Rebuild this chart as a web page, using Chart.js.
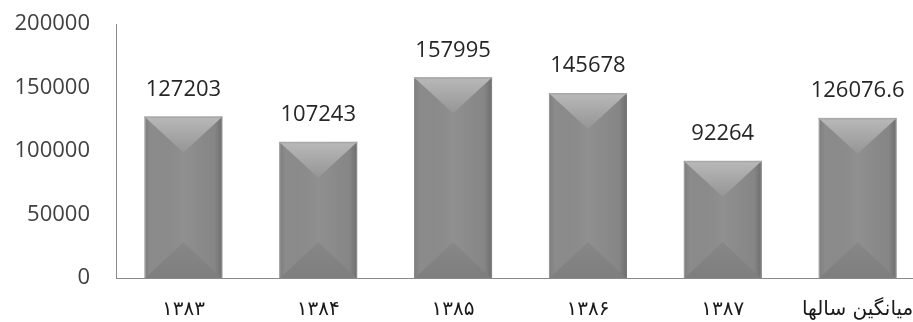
<!DOCTYPE html>
<html>
<head>
<meta charset="utf-8">
<script src="https://cdn.jsdelivr.net/npm/chart.js@4/dist/chart.umd.min.js"></script>
<style>
  html, body { margin: 0; padding: 0; background: #ffffff; overflow: hidden; }
  #wrap { width: 913px; height: 322px; overflow: hidden; position: relative; }
  #box { width: 925px; height: 322px; position: absolute; left: 0; top: 0; }
</style>
</head>
<body>
<div id="wrap"><div id="box"><canvas id="c" width="925" height="322"></canvas></div></div>
<script>
const categories = ['۱۳۸۳', '۱۳۸۴', '۱۳۸۵', '۱۳۸۶', '۱۳۸۷', 'میانگین سالها'];
const values = [127203, 107243, 157995, 145678, 92264, 126076.6];
const valueLabels = ['127203', '107243', '157995', '145678', '92264', '126076.6'];
const yTicks = [0, 50000, 100000, 150000, 200000];

const bevelPlugin = {
  id: 'bevel',
  afterDatasetsDraw(chart) {
    const ctx = chart.ctx;
    const meta = chart.getDatasetMeta(0);
    meta.data.forEach((bar, i) => {
      const p = bar.getProps(['x', 'y', 'base', 'width'], true);
      const l = p.x - p.width / 2, r = p.x + p.width / 2;
      const top = p.y, base = p.base;
      const h = base - top;
      const d = Math.min(p.width * 0.46, h / 2);
      ctx.save();
      let g = ctx.createLinearGradient(l, 0, r, 0);
      g.addColorStop(0, 'rgba(0,0,0,0.10)');
      g.addColorStop(0.08, 'rgba(0,0,0,0.0)');
      g.addColorStop(0.5, 'rgba(255,255,255,0.04)');
      g.addColorStop(0.9, 'rgba(0,0,0,0.04)');
      g.addColorStop(1, 'rgba(0,0,0,0.22)');
      ctx.fillStyle = g;
      ctx.fillRect(l, top, p.width, h);
      g = ctx.createLinearGradient(0, top, 0, top + d);
      g.addColorStop(0, '#b9b9b9');
      g.addColorStop(1, '#959595');
      ctx.beginPath();
      ctx.moveTo(l + 1, top + 1);
      ctx.lineTo(r - 1, top + 1);
      ctx.lineTo(p.x, top + d);
      ctx.closePath();
      ctx.fillStyle = g;
      ctx.fill();
      g = ctx.createLinearGradient(0, base - d, 0, base);
      g.addColorStop(0, '#878787');
      g.addColorStop(1, '#7e7e7e');
      ctx.beginPath();
      ctx.moveTo(l + 1, base);
      ctx.lineTo(r - 1, base);
      ctx.lineTo(p.x, base - d);
      ctx.closePath();
      ctx.fillStyle = g;
      ctx.fill();
      ctx.fillStyle = '#a8a8a8';
      ctx.fillRect(l, top, p.width, 1.5);
      ctx.restore();

      ctx.save();
      ctx.font = '22px "Open Sans"';
      ctx.fillStyle = '#262626';
      ctx.textAlign = 'center';
      ctx.textBaseline = 'middle';
      ctx.fillText(valueLabels[i], p.x, top - 27);
      ctx.restore();
    });
  }
};

new Chart(document.getElementById('c'), {
  type: 'bar',
  data: {
    labels: categories,
    datasets: [{
      data: values,
      backgroundColor: '#8b8b8b',
      borderColor: '#9a9a9a',
      borderWidth: 1,
      barPercentage: 0.58,
      categoryPercentage: 1.0
    }]
  },
  options: {
    responsive: false,
    animation: false,
    devicePixelRatio: 1,
    layout: { padding: { top: 24, right: 0, bottom: 0, left: 0 } },
    plugins: { legend: { display: false }, tooltip: { enabled: false } },
    scales: {
      y: {
        min: 0, max: 200000,
        afterFit(s) { s.width = 116; s.paddingTop = 0; s.paddingBottom = 0; },
        afterBuildTicks(s) { s.ticks = yTicks.map(v => ({ value: v })); },
        grid: { display: false, drawTicks: false },
        border: { display: true, color: '#8a8a8a', width: 1 },
        ticks: { padding: 26, color: '#404040', font: { family: 'Open Sans', size: 22 }, callback: v => String(v) }
      },
      x: {
        afterFit(s) { s.height = 44; s.paddingLeft = 0; s.paddingRight = 0; },
        grid: { display: false, drawTicks: false },
        border: { display: true, color: '#8a8a8a', width: 1 },
        ticks: { padding: 20, color: '#1a1a1a', font: { family: 'DejaVu Sans', size: 20 }, maxRotation: 0, autoSkip: false }
      }
    }
  },
  plugins: [bevelPlugin]
});
</script>
</body>
</html>
